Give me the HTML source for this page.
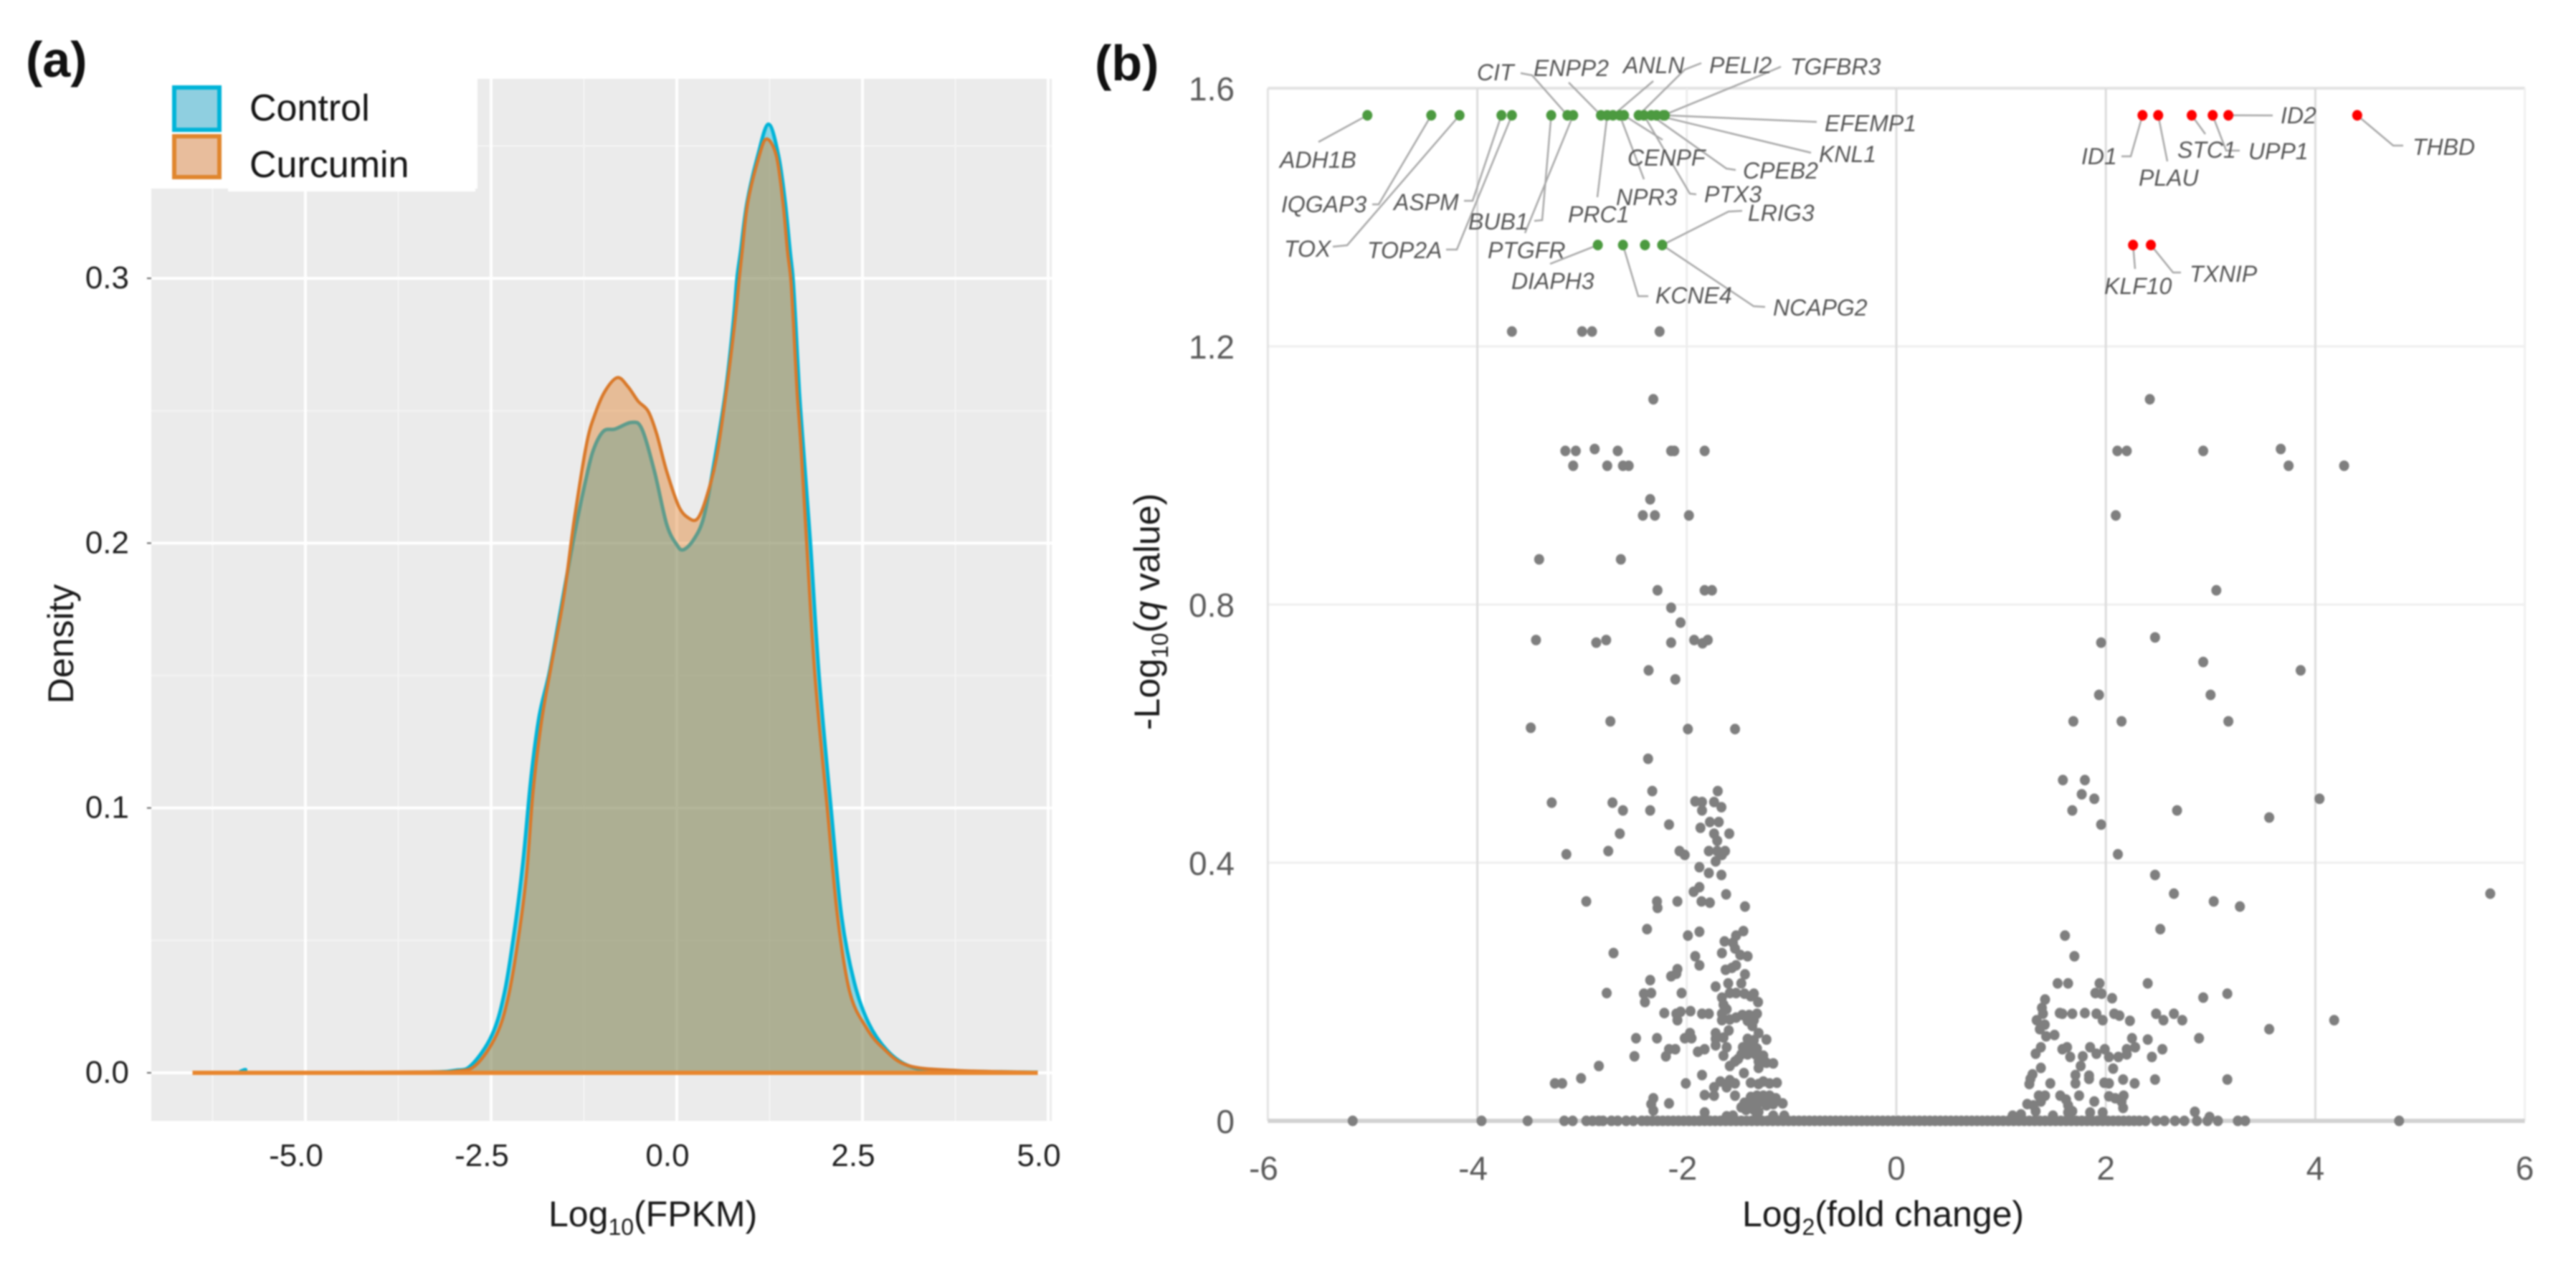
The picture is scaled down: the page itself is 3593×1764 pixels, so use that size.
<!DOCTYPE html>
<html lang="en">
<head>
<meta charset="utf-8">
<title>Density and volcano plots</title>
<style>
html,body{margin:0;padding:0;background:#fff;}
svg{display:block;filter:blur(1px);}
text{font-family:"Liberation Sans",sans-serif;}
</style>
</head>
<body>
<svg id="figure" xmlns="http://www.w3.org/2000/svg" width="3593" height="1764" viewBox="0 0 3593 1764">
  <rect x="0" y="0" width="3593" height="1764" fill="#ffffff"/>
  <g id="panelA"></g>
  <g id="panelB"></g>
  <text x="36" y="107" font-size="70" font-weight="bold" fill="#111">(a)</text>
  <text x="1527" y="112" font-size="70" font-weight="bold" fill="#111">(b)</text>
</svg>
<script>
/* ---------- Panel (a) data ---------- */
const densityXTicks = [-5, -2.5, 0, 2.5, 5];
const densityXTickLabels = ['-5.0', '-2.5', '0.0', '2.5', '5.0'];
const densityXMinor = [-6.25, -3.75, -1.25, 1.25, 3.75];
const densityYTicks = [0, 0.1, 0.2, 0.3];
const densityYTickLabels = ['0.0', '0.1', '0.2', '0.3'];
const densityYMinor = [0.05, 0.15, 0.25, 0.35];
const controlX = [-6.52,-5.95,-5.81,-5.67,-3.5,-2.99,-2.77,-2.49,-2.32,-2.18,-2.07,-1.96,-1.85,-1.71,-1.55,-1.38,-1.24,-1.13,-0.99,-0.83,-0.605,-0.47,-0.30,-0.135,0,0.087,0.226,0.364,0.50,0.655,0.76,0.81,0.86,0.945,1.09,1.235,1.37,1.46,1.525,1.565,1.60,1.65,1.69,1.80,1.915,2.08,2.22,2.39,2.58,2.83,3.11,3.49,4.86];
const controlDensity = [0,0,0.0012,0,0.0002,0.0009,0.0028,0.0142,0.0303,0.055,0.0797,0.112,0.135,0.152,0.177,0.203,0.222,0.2346,0.2422,0.2431,0.2456,0.2431,0.227,0.207,0.1994,0.1975,0.2013,0.2099,0.23,0.2571,0.2832,0.2998,0.3103,0.3285,0.3463,0.3582,0.3463,0.3285,0.3103,0.2998,0.2832,0.2571,0.2412,0.1994,0.15,0.0987,0.0588,0.0341,0.0189,0.0085,0.0028,0.0009,0.0002];
const curcuminX = [-6.52,-3.5,-2.99,-2.71,-2.43,-2.27,-2.13,-2.02,-1.935,-1.82,-1.69,-1.52,-1.38,-1.215,-1.10,-0.966,-0.80,-0.66,-0.52,-0.385,-0.27,-0.135,0.03,0.17,0.28,0.39,0.53,0.665,0.78,0.84,0.88,0.955,1.11,1.21,1.34,1.43,1.49,1.535,1.57,1.62,1.67,1.75,1.86,2.03,2.165,2.33,2.55,2.77,3.11,3.77,4.86];
const curcuminDensity = [0,0.0003,0.0006,0.0028,0.0142,0.0285,0.0513,0.0759,0.1063,0.133,0.1538,0.18,0.2089,0.2374,0.2488,0.2574,0.2625,0.2592,0.2536,0.2498,0.2412,0.227,0.2137,0.2093,0.2093,0.2165,0.2317,0.2571,0.2832,0.2998,0.3103,0.3285,0.3463,0.3526,0.3463,0.3285,0.3103,0.2998,0.2832,0.2571,0.2374,0.1994,0.15,0.0987,0.0588,0.0303,0.0171,0.0095,0.0028,0.0009,0.0002];

/* ---------- Panel (b) data ---------- */
const volcanoXTicks = [-6, -4, -2, 0, 2, 4, 6];
const volcanoYTicks = [0, 0.4, 0.8, 1.2, 1.6];
const greenGenes = ['ADH1B','IQGAP3','TOX','ASPM','TOP2A','BUB1','CIT','PTGFR','ENPP2','PRC1','ANLN','NPR3','CENPF','PELI2','PTX3','CPEB2','KNL1','TGFBR3','EFEMP1','DIAPH3','KCNE4','','LRIG3','NCAPG2'];
const greenX = [-5.05,-4.44,-4.17,-3.77,-3.67,-3.295,-3.14,-3.085,-2.82,-2.76,-2.705,-2.64,-2.6,-2.46,-2.41,-2.34,-2.29,-2.225,-2.21,-2.85,-2.61,-2.40,-2.235,-2.235];
const greenY = [1.558,1.558,1.558,1.558,1.558,1.558,1.558,1.558,1.558,1.558,1.558,1.558,1.558,1.558,1.558,1.558,1.558,1.558,1.558,1.357,1.357,1.357,1.357,1.357];
const redGenes = ['ID1','PLAU','STC1','UPP1','ID2','THBD','KLF10','TXNIP'];
const redX = [2.35,2.50,2.82,3.02,3.17,4.40,2.26,2.43];
const redY = [1.558,1.558,1.558,1.558,1.558,1.558,1.357,1.357];
const baselineX = [-5.19,-3.96,-3.52,-3.17,-3.09,-2.96,-2.90,-2.84,-2.80,-2.72,-2.66,-2.58,-2.51,-2.43,-2.38,-2.33,-2.28,-2.23,-2.18,-2.13,-2.08,-2.03,-1.98,-1.93,-1.88,-1.83,-1.78,-1.73,-1.68,-1.63,-1.58,-1.53,-1.48,-1.43,-1.38,-1.33,-1.28,-1.23,-1.18,-1.13,-1.08,-1.03,-0.98,-0.93,-0.88,-0.83,-0.78,-0.73,-0.68,-0.63,-0.58,-0.53,-0.48,-0.43,-0.38,-0.33,-0.28,-0.23,-0.18,-0.13,-0.08,-0.03,0.02,0.07,0.12,0.17,0.22,0.27,0.32,0.37,0.42,0.47,0.52,0.57,0.62,0.67,0.72,0.77,0.82,0.87,0.92,0.97,1.02,1.07,1.12,1.17,1.22,1.27,1.32,1.37,1.42,1.47,1.52,1.57,1.62,1.67,1.72,1.77,1.82,1.87,1.92,1.97,2.02,2.07,2.12,2.17,2.22,2.27,2.32,2.38,2.48,2.56,2.66,2.75,2.87,2.97,3.07,3.26,3.33,4.80];
const grayPoints = [
[-3.67,1.223],[-3.0,1.223],[-2.905,1.223],[-2.26,1.223],[-2.32,1.118],[-3.16,1.038],[-3.06,1.038],[-2.88,1.041],[-2.66,1.038],[-2.15,1.038],[-2.12,1.038],[-1.83,1.038],[-3.085,1.015],[-2.76,1.015],[-2.61,1.015],[-2.555,1.015],[-2.35,0.963],[-2.42,0.938],[-2.305,0.938],[-1.98,0.938],[-3.41,0.87],[-2.63,0.87],[-2.28,0.822],[-1.83,0.822],[-1.76,0.822],[-2.15,0.795],[-2.06,0.772],[-3.44,0.745],[-2.865,0.741],[-2.77,0.745],[-2.15,0.741],[-1.93,0.745],[-1.85,0.74],[-1.80,0.745],[-2.365,0.698],[-2.11,0.684],
[-3.49,0.609],[-2.73,0.619],[-1.99,0.607],[-1.54,0.607],[-2.37,0.561],[-2.33,0.511],[-1.705,0.511],[-3.29,0.493],[-2.71,0.493],[-2.61,0.481],[-2.35,0.481],[-1.92,0.495],[-1.855,0.494],[-1.74,0.494],[-1.67,0.486],[-1.855,0.481],[-2.17,0.459],[-1.78,0.463],[-1.695,0.463],[-1.87,0.454],[-1.74,0.445],[-1.595,0.445],[-2.64,0.445],[-1.71,0.434],[-3.15,0.413],[-2.75,0.418],[-2.07,0.418],[-2.02,0.412],[-1.79,0.418],[-1.71,0.418],[-1.635,0.418],[-1.665,0.412],[-1.725,0.402],[-1.88,0.393],[-1.79,0.384],[-1.67,0.381],[-1.88,0.362],[-1.935,0.355],[-1.625,0.351],[-2.96,0.34],[-2.285,0.34],[-2.28,0.33],[-2.09,0.34],[-1.86,0.34],[-1.78,0.338],[-1.445,0.332],[-2.38,0.297],[-1.99,0.287],[-1.88,0.293],[-1.46,0.294],[-1.53,0.287],[-1.64,0.278],[-1.56,0.276],[-2.70,0.26],[-1.665,0.26],[-1.54,0.267],[-1.49,0.257],[-1.42,0.255],[-1.92,0.255],[-1.88,0.241],[-2.09,0.235],[-2.10,0.228],[-2.15,0.224],[-2.35,0.218],[-1.53,0.241],[-1.57,0.237],[-1.63,0.234],[-1.445,0.227],[-1.725,0.208],[-1.605,0.213],[-1.48,0.213],[-2.765,0.198],[-2.41,0.197],[-2.34,0.198],[-2.05,0.198],[-2.40,0.184],[-1.59,0.198],[-1.53,0.198],[-1.45,0.197],[-1.36,0.197],[-1.39,0.193],[-1.32,0.184],[-1.665,0.191],[-1.65,0.18],[-1.62,0.173],
[-2.215,0.167],[-2.10,0.166],[-2.06,0.169],[-1.965,0.17],[-1.855,0.166],[-1.79,0.166],[-2.09,0.156],[-1.665,0.166],[-1.665,0.156],[-1.59,0.157],[-1.53,0.16],[-1.47,0.164],[-1.405,0.164],[-1.33,0.166],[-1.36,0.156],[-1.42,0.155],[-1.375,0.147],[-2.485,0.128],[-2.285,0.128],[-2.02,0.128],[-1.97,0.136],[-1.955,0.128],[-1.725,0.136],[-1.725,0.127],[-1.725,0.117],[-1.65,0.129],[-1.60,0.14],[-1.62,0.114],[-1.65,0.101],[-2.11,0.111],[-2.17,0.111],[-2.20,0.10],[-2.50,0.10],[-1.895,0.107],[-1.83,0.111],[-1.42,0.127],[-1.315,0.136],[-1.24,0.126],[-1.36,0.125],[-1.465,0.114],[-1.405,0.114],[-1.33,0.112],[-1.48,0.103],[-1.42,0.103],[-1.345,0.103],[-1.27,0.101],[-1.51,0.096],[-1.315,0.092],[-1.24,0.09],[-1.175,0.089],[-1.315,0.082],[-1.59,0.085],[-1.54,0.092],[-2.84,0.085],[-3.01,0.066],[-3.26,0.058],[-3.19,0.058],[-2.01,0.058],[-1.855,0.071],[-1.455,0.074],[-1.68,0.061],[-1.59,0.063],[-1.54,0.058],[-1.62,0.052],[-1.74,0.052],[-1.39,0.059],[-1.27,0.061],[-1.21,0.058],[-1.14,0.059],[-1.315,0.057],[-1.83,0.04],[-1.74,0.039],[-1.54,0.039],[-2.32,0.035],[-2.34,0.026],[-2.32,0.016],[-2.17,0.027],[-1.83,0.013],[-1.45,0.028],[-1.39,0.037],[-1.33,0.039],[-1.27,0.039],[-1.21,0.039],[-1.15,0.035],[-1.085,0.027],[-1.175,0.026],[-1.24,0.028],[-1.315,0.028],[-1.39,0.026],[-1.48,0.021],[-1.435,0.017],[-1.36,0.017],[-1.315,0.014],[-1.24,0.024],[-1.62,0.007],[-1.56,0.008],[-1.175,0.008],[-1.07,0.008],[-1.33,0.008],
[2.42,1.118],[2.11,1.038],[2.20,1.038],[2.93,1.038],[3.67,1.041],[3.745,1.015],[4.275,1.015],[2.095,0.938],[3.055,0.822],[1.955,0.741],[2.47,0.749],[2.93,0.711],[3.86,0.698],[1.935,0.66],[3.0,0.66],
[1.69,0.619],[2.15,0.619],[3.17,0.619],[1.59,0.528],[1.80,0.528],[1.77,0.506],[1.89,0.499],[1.68,0.481],[2.68,0.481],[1.955,0.459],[4.04,0.499],[3.56,0.47],[2.115,0.413],[2.47,0.381],[2.65,0.352],[3.03,0.34],[3.28,0.332],[5.67,0.352],[2.52,0.297],[1.61,0.287],[1.70,0.255],[1.54,0.213],[1.64,0.213],[1.94,0.213],[2.40,0.213],[1.90,0.198],[1.96,0.197],[2.06,0.19],[2.93,0.191],[3.16,0.197],[1.42,0.188],[1.39,0.175],[1.40,0.166],[1.34,0.156],[1.417,0.149],[1.37,0.142],[1.43,0.131],[1.51,0.133],[1.56,0.167],[1.585,0.166],[1.68,0.166],[1.80,0.167],[1.91,0.166],[1.97,0.156],[2.08,0.166],[2.13,0.163],[2.23,0.155],[2.48,0.166],[2.55,0.156],[2.65,0.166],[2.73,0.156],[4.18,0.156],[3.56,0.142],[2.25,0.128],[2.40,0.126],[2.89,0.128],[2.28,0.114],[2.54,0.111],[2.44,0.099],[1.38,0.114],[1.33,0.104],[1.63,0.114],[1.585,0.111],[1.66,0.099],[1.85,0.114],[1.91,0.104],[1.78,0.10],[1.99,0.111],[2.03,0.099],[2.12,0.099],[2.20,0.111],[2.20,0.103],[1.76,0.085],[1.38,0.082],[2.07,0.081],[1.30,0.072],[1.28,0.065],[1.27,0.057],[1.47,0.058],[1.71,0.071],[1.71,0.058],[1.84,0.07],[1.84,0.065],[1.985,0.059],[2.03,0.058],[2.165,0.064],[2.275,0.058],[2.47,0.064],[3.16,0.064],[1.565,0.039],[1.62,0.033],[1.745,0.039],[1.89,0.03],[2.03,0.038],[2.09,0.035],[2.17,0.039],[2.15,0.03],[2.165,0.02],[1.36,0.039],[1.42,0.039],[1.38,0.03],[1.25,0.026],[1.31,0.024],[1.33,0.015],[1.64,0.024],[1.68,0.015],[1.64,0.013],[1.11,0.008],[1.19,0.01],[1.495,0.008],[1.85,0.013],[1.97,0.013],[2.85,0.014],[2.99,0.006]
];

/* ---------- Layout (separate from data) ---------- */
const SVGNS = 'http://www.w3.org/2000/svg';
const DX = v => 944 + v * 103.6;
const DY = v => 1496 - v * 3693;
const VX = v => 2645 + v * 146.1;
const VY = v => 1563 - v * 900;
const labelLayout = {
  'ADH1B':[1785,234,[[1839,198]]],
  'IQGAP3':[1787,296,[[1923,285],[1914,285]]],
  'TOX':[1791,358,[[1879,342],[1859,344]]],
  'ASPM':[1944,293,[[2054,280],[2042,280]]],
  'TOP2A':[1907,360,[[2032,348],[2017,348]]],
  'BUB1':[2048,320,[[2151,307],[2140,308]]],
  'PTGFR':[2075,360,[[2127,325]]],
  'PRC1':[2187,310,[[2228,275]]],
  'NPR3':[2254,286,[[2293,250]]],
  'CENPF':[2270,231,[[2319,195]]],
  'PTX3':[2377,282,[[2357,270],[2366,271]]],
  'CPEB2':[2431,249,[[2408,235],[2421,237]]],
  'KNL1':[2537,226,[[2526,213]]],
  'EFEMP1':[2545,183,[[2534,170]]],
  'LRIG3':[2438,308,[[2411,295],[2430,294]]],
  'DIAPH3':[2108,403,[[2162,368]]],
  'KCNE4':[2309,423,[[2285,413],[2299,413]]],
  'NCAPG2':[2473,440,[[2446,427],[2462,428]]],
  'CIT':[2060,112,[[2137,105],[2121,102]]],
  'ENPP2':[2139,106,[[2188,115]]],
  'ANLN':[2264,102,[[2306,113]]],
  'PELI2':[2384,102,[[2350,97],[2373,88]]],
  'TGFBR3':[2497,104,[[2456,105],[2484,93]]],
  'ID2':[3181,172,[[3170,161]]],
  'THBD':[3365,216,[[3338,203],[3352,203]]],
  'ID1':[2903,229,[[2972,218],[2959,218]]],
  'PLAU':[2983,259,[[3023,225]]],
  'STC1':[3037,220,[[3076,187]]],
  'UPP1':[3136,222,[[3105,210],[3124,210]]],
  'KLF10':[2935,410,[[2978,375]]],
  'TXNIP':[3054,393,[[3031,380],[3042,380]]]
};

function mk(parent, tag, attrs, txt) {
  const el = document.createElementNS(SVGNS, tag);
  for (const k in attrs) el.setAttribute(k, attrs[k]);
  if (txt !== undefined) el.textContent = txt;
  parent.appendChild(el);
  return el;
}
function smooth(xs, ys, fx, fy) {
  const p = xs.map((x, i) => [fx(x), fy(ys[i])]);
  let d = 'M' + p[0][0].toFixed(1) + ' ' + p[0][1].toFixed(1);
  for (let i = 0; i < p.length - 1; i++) {
    const a = p[Math.max(0, i - 1)], b = p[i], c = p[i + 1], e = p[Math.min(p.length - 1, i + 2)];
    const c1x = b[0] + (c[0] - a[0]) / 6, c1y = b[1] + (c[1] - a[1]) / 6;
    const c2x = c[0] - (e[0] - b[0]) / 6, c2y = c[1] - (e[1] - b[1]) / 6;
    d += 'C' + c1x.toFixed(1) + ' ' + c1y.toFixed(1) + ' ' + c2x.toFixed(1) + ' ' + c2y.toFixed(1) + ' ' + c[0].toFixed(1) + ' ' + c[1].toFixed(1);
  }
  return d;
}

/* ---------- Draw panel (a) ---------- */
const A = document.getElementById('panelA');
let node;
node = mk(A, 'rect', {x:211, y:110, width:1256, height:1453, fill:'#ebebeb'});


densityXMinor.forEach(v => {
  const el = mk(A, 'line', {x1:DX(v), x2:DX(v), y1:110, y2:1563, stroke:'#f4f4f4', 'stroke-width':2});
  
  
});
densityYMinor.forEach(v => {
  const el = mk(A, 'line', {x1:211, x2:1467, y1:DY(v), y2:DY(v), stroke:'#f4f4f4', 'stroke-width':2});
  
  
});
densityXTicks.forEach(v => {
  const el = mk(A, 'line', {x1:DX(v), x2:DX(v), y1:110, y2:1563, stroke:'#ffffff', 'stroke-width':4});
  
  
});
densityYTicks.forEach((v, i) => {
  const el = mk(A, 'line', {x1:211, x2:1467, y1:DY(v), y2:DY(v), stroke:'#ffffff', 'stroke-width':4});
  
  
  const t = mk(A, 'line', {x1:205, x2:211, y1:DY(v), y2:DY(v), stroke:'#666', 'stroke-width':2});
  
  
  const lab = mk(A, 'text', {x:180, y:DY(v) + 14, 'text-anchor':'end', 'font-size':44, fill:'#1f1f1f'}, densityYTickLabels[i]);
  
  
});
densityXTicks.forEach((v, i) => {
  const lab = mk(A, 'text', {x:DX(v) - 13, y:1626, 'text-anchor':'middle', 'font-size':44, fill:'#1f1f1f'}, densityXTickLabels[i]);
  
  
});
function drawDensity(xs, ys, fill, stroke, width, name) {
  const top = smooth(xs, ys, DX, DY);
  const x0 = DX(xs[0]), x1 = DX(xs[xs.length - 1]), y0 = DY(0);
  const area = mk(A, 'path', {d: top + 'L' + x1 + ' ' + y0 + 'L' + x0 + ' ' + y0 + 'Z', fill: fill, 'fill-opacity': 0.42});
  
  
  const line = mk(A, 'path', {d: top, fill: 'none', stroke: stroke, 'stroke-width': width, 'stroke-linejoin': 'round'});
  
  
}
drawDensity(controlX, controlDensity, '#00b4d8', '#00b4d8', 5, 'control');
drawDensity(curcuminX, curcuminDensity, '#e07b24', '#d9792a', 4.5, 'curcumin');
node = mk(A, 'line', {x1:DX(curcuminX[0]), x2:DX(curcuminX[curcuminX.length - 1]), y1:DY(0), y2:DY(0), stroke:'#e8862e', 'stroke-width':6});



node = mk(A, 'rect', {x:0, y:0, width:666, height:263, fill:'#ffffff'});


node = mk(A, 'rect', {x:318, y:263, width:345, height:4, fill:'#ffffff'});


node = mk(A, 'rect', {x:243, y:122, width:63, height:59, fill:'#8fcfe0', stroke:'#00b4d8', 'stroke-width':6});


node = mk(A, 'rect', {x:243, y:190, width:63, height:57, fill:'#e8bd9c', stroke:'#e0862e', 'stroke-width':6});


node = mk(A, 'text', {x:348, y:168, 'font-size':52, fill:'#151515'}, 'Control');


node = mk(A, 'text', {x:348, y:247, 'font-size':52, fill:'#151515'}, 'Curcumin');



node = mk(A, 'text', {x:765, y:1710, 'font-size':50, fill:'#1a1a1a'});


mk(node, 'tspan', {}, 'Log');
mk(node, 'tspan', {dy:12, 'font-size':32}, '10');
mk(node, 'tspan', {dy:-12}, '(FPKM)');
node = mk(A, 'text', {x:0, y:0, transform:'translate(102,898) rotate(-90)', 'text-anchor':'middle', 'font-size':50, fill:'#1a1a1a'}, 'Density');



/* ---------- Draw panel (b) ---------- */
const B = document.getElementById('panelB');
volcanoYTicks.forEach(v => {
  const strong = v === 1.6;
  const el = mk(B, 'line', {x1:VX(-6), x2:VX(6), y1:VY(v), y2:VY(v), stroke: strong ? '#e2e2e2' : '#efefef', 'stroke-width': strong ? 4 : 3});
  
  
  const lab = mk(B, 'text', {x:1722, y:VY(v) + 17, 'text-anchor':'end', 'font-size':46, fill:'#5a5a5a'}, v === 0 ? '0' : v.toFixed(1));
  
  
});
volcanoXTicks.forEach(v => {
  const edge = Math.abs(v) === 6, light = v === -2;
  const el = mk(B, 'line', {x1:VX(v), x2:VX(v), y1:VY(1.6), y2:VY(0), stroke: v === -6 ? '#e2e2e2' : edge ? '#f0f0f0' : light ? '#ededed' : '#dcdcdc', 'stroke-width':3});
  
  
  const lab = mk(B, 'text', {x:VX(v) - (v < 0 ? 6 : 0), y:1645, 'text-anchor':'middle', 'font-size':46, fill:'#5a5a5a'}, String(v));
  
  
});
node = mk(B, 'line', {x1:VX(-6), x2:VX(6), y1:VY(0), y2:VY(0), stroke:'#d2d2d2', 'stroke-width':6});



const dotRX = 7, dotRY = 7.4;
grayPoints.forEach(p => {
  const el = mk(B, 'ellipse', {cx:VX(p[0]), cy:VY(p[1]), rx:dotRX, ry:dotRY, fill:'#7f7f7f'});
  
  
});
baselineX.forEach(x => {
  const el = mk(B, 'ellipse', {cx:VX(x), cy:VY(0), rx:dotRX, ry:dotRY, fill:'#7f7f7f'});
  
  
});
function drawLeader(gene, x, y) {
  const lay = labelLayout[gene];
  if (!lay) return;
  const pts = [[VX(x), VY(y)]].concat(lay[2]);
  const el = mk(B, 'polyline', {points: pts.map(q => q[0] + ',' + q[1]).join(' '), fill:'none', stroke:'#a8a8a8', 'stroke-width':2.5});
  
  
}
function drawLabel(gene) {
  const lay = labelLayout[gene];
  if (!lay) return;
  const el = mk(B, 'text', {x:lay[0], y:lay[1], 'font-size':32, 'font-style':'italic', fill:'#555555'}, gene);
  
  
}
greenGenes.forEach((g, i) => drawLeader(g, greenX[i], greenY[i]));
redGenes.forEach((g, i) => drawLeader(g, redX[i], redY[i]));
greenX.forEach((x, i) => {
  const el = mk(B, 'ellipse', {cx:VX(x), cy:VY(greenY[i]), rx:dotRX, ry:dotRY, fill:'#4c9a40'});
  
  
});
redX.forEach((x, i) => {
  const el = mk(B, 'ellipse', {cx:VX(x), cy:VY(redY[i]), rx:dotRX, ry:dotRY, fill:'#ff0000'});
  
  
});
greenGenes.forEach(drawLabel);
redGenes.forEach(drawLabel);

node = mk(B, 'text', {x:2430, y:1710, 'font-size':50, fill:'#1a1a1a'});


mk(node, 'tspan', {}, 'Log');
mk(node, 'tspan', {dy:12, 'font-size':32}, '2');
mk(node, 'tspan', {dy:-12}, '(fold change)');
node = mk(B, 'text', {x:0, y:0, transform:'translate(1617,853) rotate(-90)', 'text-anchor':'middle', 'font-size':50, fill:'#1a1a1a'});


mk(node, 'tspan', {}, '-Log');
mk(node, 'tspan', {dy:12, 'font-size':32}, '10');
mk(node, 'tspan', {dy:-12}, '(');
mk(node, 'tspan', {'font-style':'italic'}, 'q');
mk(node, 'tspan', {}, ' value)');
</script>
</body>
</html>
